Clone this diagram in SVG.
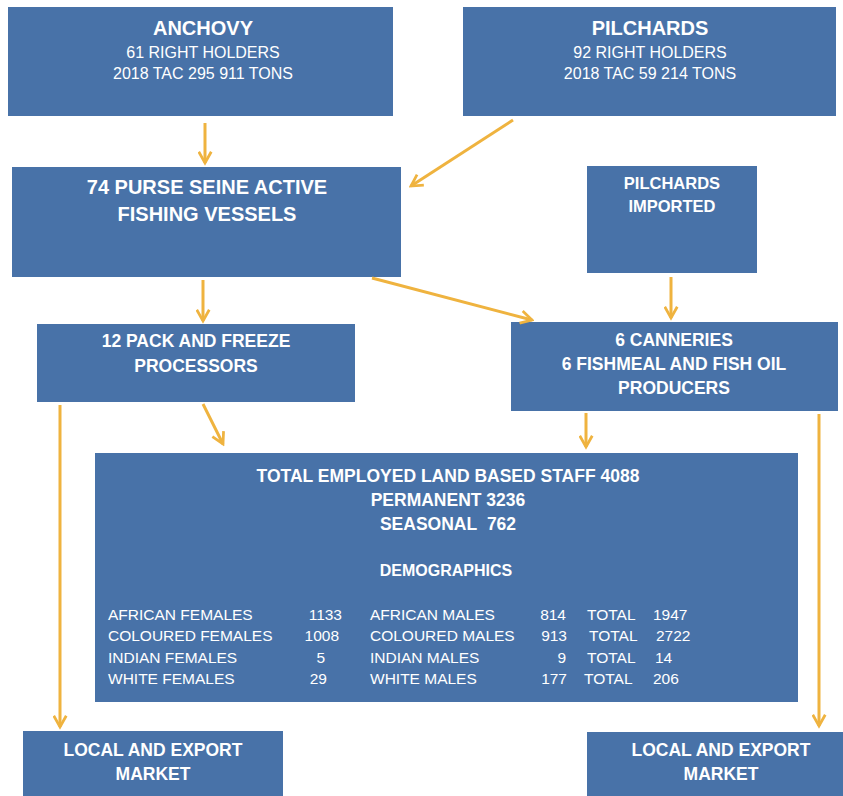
<svg xmlns="http://www.w3.org/2000/svg" width="843" height="796" viewBox="0 0 843 796">
<defs>
<style>
.box{fill:#4872a8;}
.t{font-family:"Liberation Sans",Arial,sans-serif;fill:#ffffff;}
.b{font-weight:bold;}
.c{text-anchor:middle;}
.r{text-anchor:end;}
.con{stroke:#efb33f;stroke-width:3;fill:none;marker-end:url(#ah);}
</style>
<marker id="ah" viewBox="0 0 12 12" refX="10" refY="6" markerWidth="5" markerHeight="5" orient="auto" markerUnits="strokeWidth">
<path d="M1,1 L10,6 L1,11" fill="none" stroke="#efb33f" stroke-width="2.2"/>
</marker>
</defs>
<rect width="843" height="796" fill="#ffffff"/>

<g id="anchovy">
<rect class="box" x="8" y="7" width="385" height="109"/>
<text class="t b c" x="203" y="35" font-size="20">ANCHOVY</text>
<text class="t c" x="203" y="58" font-size="16">61 RIGHT HOLDERS</text>
<text class="t c" x="203" y="79" font-size="16">2018 TAC 295 911 TONS</text>
</g>

<g id="pilchards">
<rect class="box" x="463" y="7" width="373" height="109"/>
<text class="t b c" x="650" y="35" font-size="20">PILCHARDS</text>
<text class="t c" x="650" y="58" font-size="16">92 RIGHT HOLDERS</text>
<text class="t c" x="650" y="79" font-size="16">2018 TAC 59 214 TONS</text>
</g>

<g id="purse-seine">
<rect class="box" x="12" y="167" width="389" height="110"/>
<text class="t b c" x="207" y="194" font-size="20">74 PURSE SEINE ACTIVE</text>
<text class="t b c" x="207" y="221" font-size="20">FISHING VESSELS</text>
</g>

<g id="pilchards-imported">
<rect class="box" x="587" y="166" width="170" height="107"/>
<text class="t b c" x="672" y="189" font-size="16.5">PILCHARDS</text>
<text class="t b c" x="672" y="212" font-size="16.5">IMPORTED</text>
</g>

<g id="pack-freeze">
<rect class="box" x="37" y="324" width="318" height="78"/>
<text class="t b c" x="196" y="347" font-size="17.5">12 PACK AND FREEZE</text>
<text class="t b c" x="196" y="372" font-size="17.5">PROCESSORS</text>
</g>

<g id="canneries">
<rect class="box" x="511" y="322" width="327" height="89"/>
<text class="t b c" x="674" y="346" font-size="17.5">6 CANNERIES</text>
<text class="t b c" x="674" y="370" font-size="17.5">6 FISHMEAL AND FISH OIL</text>
<text class="t b c" x="674" y="394" font-size="17.5">PRODUCERS</text>
</g>

<g id="staff">
<rect class="box" x="95" y="453" width="703" height="249"/>
<text class="t b c" x="448" y="482" font-size="17.5">TOTAL EMPLOYED LAND BASED STAFF 4088</text>
<text class="t b c" x="448" y="506" font-size="17.5">PERMANENT 3236</text>
<text class="t b c" x="448" y="530" font-size="17.5">SEASONAL&#160; 762</text>
<text class="t b c" x="446" y="576" font-size="16">DEMOGRAPHICS</text>
<g font-size="15.5">
<text class="t" x="108" y="620">AFRICAN FEMALES</text>
<text class="t r" x="342" y="620">1133</text>
<text class="t" x="370" y="620">AFRICAN MALES</text>
<text class="t r" x="566" y="620">814</text>
<text class="t" x="587" y="620">TOTAL</text>
<text class="t" x="653" y="620">1947</text>

<text class="t" x="108" y="641">COLOURED FEMALES</text>
<text class="t r" x="339" y="641">1008</text>
<text class="t" x="370" y="641">COLOURED MALES</text>
<text class="t r" x="567" y="641">913</text>
<text class="t" x="589" y="641">TOTAL</text>
<text class="t" x="656" y="641">2722</text>

<text class="t" x="108" y="663">INDIAN FEMALES</text>
<text class="t r" x="325" y="663">5</text>
<text class="t" x="370" y="663">INDIAN MALES</text>
<text class="t r" x="566" y="663">9</text>
<text class="t" x="587" y="663">TOTAL</text>
<text class="t" x="655" y="663">14</text>

<text class="t" x="108" y="684">WHITE FEMALES</text>
<text class="t r" x="327" y="684">29</text>
<text class="t" x="370" y="684">WHITE MALES</text>
<text class="t r" x="567" y="684">177</text>
<text class="t" x="584" y="684">TOTAL</text>
<text class="t" x="653" y="684">206</text>
</g>
</g>

<g id="market-left">
<rect class="box" x="23" y="731" width="260" height="65"/>
<text class="t b c" x="153" y="756" font-size="17.5">LOCAL AND EXPORT</text>
<text class="t b c" x="153" y="780" font-size="17.5">MARKET</text>
</g>

<g id="market-right">
<rect class="box" x="587" y="732" width="256" height="64"/>
<text class="t b c" x="721" y="756" font-size="17.5">LOCAL AND EXPORT</text>
<text class="t b c" x="721" y="780" font-size="17.5">MARKET</text>
</g>

<g id="connectors">
<line class="con" x1="205" y1="123" x2="205" y2="163"/>
<line class="con" x1="513" y1="120" x2="411" y2="186"/>
<line class="con" x1="203" y1="280" x2="203" y2="321"/>
<line class="con" x1="372" y1="278" x2="532" y2="320"/>
<line class="con" x1="671" y1="277" x2="671" y2="318"/>
<line class="con" x1="203" y1="404" x2="223" y2="444"/>
<line class="con" x1="586" y1="413" x2="586" y2="447"/>
<line class="con" x1="60" y1="405" x2="60" y2="727"/>
<line class="con" x1="819" y1="414" x2="819" y2="726"/>
</g>
</svg>
